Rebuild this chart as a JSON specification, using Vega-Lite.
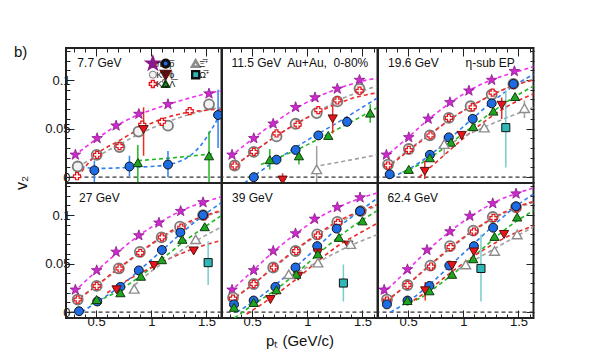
{
"$schema": "https://vega.github.io/schema/vega-lite/v6.json",
"padding": {"left": 14, "top": 45, "right": 5, "bottom": 5},
"bounds": "flush",
"title": {"text": "b)", "orient": "top", "anchor": "start", "frame": "bounds", "fontSize": 15, "fontWeight": "normal", "font": "Liberation Sans", "offset": -13, "color": "#111"},
"config": {"font": "Liberation Sans", "view": {"stroke": "#222", "strokeWidth": 2}, "axis": {"grid": false, "domain": false, "tickColor": "#222", "tickWidth": 1, "labelColor": "#111", "labelFontSize": 13}},
"transform": [{"lookup": "p", "from": {"data": {"values": [{"p":"7.7","r":"a","c":"a"},{"p":"11.5","r":"a","c":"b"},{"p":"19.6","r":"a","c":"c"},{"p":"27","r":"b","c":"a"},{"p":"39","r":"b","c":"b"},{"p":"62.4","r":"b","c":"c"}]}, "key": "p", "fields": ["r","c"]}}],
"data": {"values": [
{"p":"7.7","k":"lab","t":"7.7 GeV","x":0.33,"y":0.118},
{"p":"11.5","k":"lab","t":"11.5 GeV\u00a0 Au+Au,\u00a0 0-80%","x":0.312,"y":0.118},
{"p":"19.6","k":"lab","t":"19.6 GeV","x":0.318,"y":0.118},
{"p":"19.6","k":"lab2","t":"η-sub EP","x":1.02,"y":0.118},
{"p":"27","k":"lab","t":"27 GeV","x":0.345,"y":0.118},
{"p":"39","k":"lab","t":"39 GeV","x":0.318,"y":0.118},
{"p":"62.4","k":"lab","t":"62.4 GeV","x":0.312,"y":0.118},
{"p":"7.7","k":"leg","s":"pi","x":1.014,"y":0.117},
{"p":"7.7","k":"leg","s":"K","x":1.014,"y":0.1055},
{"p":"7.7","k":"leg","s":"K0s","x":1.014,"y":0.096},
{"p":"7.7","k":"leg","s":"pbar","x":1.13,"y":0.117},
{"p":"7.7","k":"leg","s":"phi","x":1.13,"y":0.1055},
{"p":"7.7","k":"leg","s":"Lam","x":1.13,"y":0.096},
{"p":"7.7","k":"leg","s":"Xi","x":1.402,"y":0.117},
{"p":"7.7","k":"leg","s":"Om","x":1.402,"y":0.1055},
{"p":"7.7","k":"legt","t":"π⁻","x":1.045,"y":0.117},
{"p":"7.7","k":"legt","t":"K⁻","x":1.045,"y":0.1055},
{"p":"7.7","k":"legt","t":"K⁰ₛ","x":1.045,"y":0.096},
{"p":"7.7","k":"legt","t":"p̅","x":1.162,"y":0.117},
{"p":"7.7","k":"legt","t":"ϕ","x":1.162,"y":0.1055},
{"p":"7.7","k":"legt","t":"Λ̅","x":1.162,"y":0.096},
{"p":"7.7","k":"legt","t":"Ξ̅⁺","x":1.435,"y":0.117},
{"p":"7.7","k":"legt","t":"Ω̅⁺","x":1.435,"y":0.1055},

{"p":"7.7","k":"f","s":"pi","x":0.3,"y":0.022},{"p":"7.7","k":"f","s":"pi","x":0.5,"y":0.039},{"p":"7.7","k":"f","s":"pi","x":0.7,"y":0.054},{"p":"7.7","k":"f","s":"pi","x":0.9,"y":0.065},{"p":"7.7","k":"f","s":"pi","x":1.1,"y":0.073},{"p":"7.7","k":"f","s":"pi","x":1.3,"y":0.08},{"p":"7.7","k":"f","s":"pi","x":1.5,"y":0.086},{"p":"7.7","k":"f","s":"pi","x":1.64,"y":0.089},
{"p":"7.7","k":"f","s":"K","x":0.33,"y":0.011},{"p":"7.7","k":"f","s":"K","x":0.5,"y":0.021},{"p":"7.7","k":"f","s":"K","x":0.7,"y":0.033},{"p":"7.7","k":"f","s":"K","x":0.9,"y":0.045},{"p":"7.7","k":"f","s":"K","x":1.1,"y":0.055},{"p":"7.7","k":"f","s":"K","x":1.3,"y":0.063},{"p":"7.7","k":"f","s":"K","x":1.5,"y":0.069},{"p":"7.7","k":"f","s":"K","x":1.64,"y":0.072},
{"p":"7.7","k":"f","s":"K0s","x":0.33,"y":0.0},{"p":"7.7","k":"f","s":"K0s","x":0.5,"y":0.023},{"p":"7.7","k":"f","s":"K0s","x":0.7,"y":0.037},{"p":"7.7","k":"f","s":"K0s","x":0.9,"y":0.05},{"p":"7.7","k":"f","s":"K0s","x":1.1,"y":0.06},{"p":"7.7","k":"f","s":"K0s","x":1.3,"y":0.066},{"p":"7.7","k":"f","s":"K0s","x":1.5,"y":0.069},{"p":"7.7","k":"f","s":"K0s","x":1.64,"y":0.07},
{"p":"7.7","k":"f","s":"pbar","x":0.36,"y":0.011},{"p":"7.7","k":"f","s":"pbar","x":0.5,"y":0.009},{"p":"7.7","k":"f","s":"pbar","x":0.8,"y":0.01},{"p":"7.7","k":"f","s":"pbar","x":1.1,"y":0.012},{"p":"7.7","k":"f","s":"pbar","x":1.25,"y":0.016},{"p":"7.7","k":"f","s":"pbar","x":1.35,"y":0.022},{"p":"7.7","k":"f","s":"pbar","x":1.45,"y":0.033},{"p":"7.7","k":"f","s":"pbar","x":1.55,"y":0.05},{"p":"7.7","k":"f","s":"pbar","x":1.64,"y":0.068},
{"p":"7.7","k":"f","s":"Lam","x":0.88,"y":0.017},{"p":"7.7","k":"f","s":"Lam","x":1.2,"y":0.02},{"p":"7.7","k":"f","s":"Lam","x":1.55,"y":0.024},

{"p":"11.5","k":"f","s":"pi","x":0.3,"y":0.021},{"p":"11.5","k":"f","s":"pi","x":0.5,"y":0.039},{"p":"11.5","k":"f","s":"pi","x":0.7,"y":0.056},{"p":"11.5","k":"f","s":"pi","x":0.9,"y":0.071},{"p":"11.5","k":"f","s":"pi","x":1.1,"y":0.083},{"p":"11.5","k":"f","s":"pi","x":1.3,"y":0.092},{"p":"11.5","k":"f","s":"pi","x":1.5,"y":0.099},{"p":"11.5","k":"f","s":"pi","x":1.64,"y":0.102},
{"p":"11.5","k":"f","s":"K","x":0.3,"y":0.009},{"p":"11.5","k":"f","s":"K","x":0.5,"y":0.025},{"p":"11.5","k":"f","s":"K","x":0.7,"y":0.041},{"p":"11.5","k":"f","s":"K","x":0.9,"y":0.055},{"p":"11.5","k":"f","s":"K","x":1.1,"y":0.068},{"p":"11.5","k":"f","s":"K","x":1.3,"y":0.08},{"p":"11.5","k":"f","s":"K","x":1.5,"y":0.089},{"p":"11.5","k":"f","s":"K","x":1.64,"y":0.094},
{"p":"11.5","k":"f","s":"K0s","x":0.3,"y":0.008},{"p":"11.5","k":"f","s":"K0s","x":0.5,"y":0.025},{"p":"11.5","k":"f","s":"K0s","x":0.7,"y":0.041},{"p":"11.5","k":"f","s":"K0s","x":0.9,"y":0.055},{"p":"11.5","k":"f","s":"K0s","x":1.1,"y":0.067},{"p":"11.5","k":"f","s":"K0s","x":1.3,"y":0.077},{"p":"11.5","k":"f","s":"K0s","x":1.5,"y":0.084},{"p":"11.5","k":"f","s":"K0s","x":1.64,"y":0.087},
{"p":"11.5","k":"f","s":"pbar","x":0.43,"y":-0.006},{"p":"11.5","k":"f","s":"pbar","x":0.7,"y":0.016},{"p":"11.5","k":"f","s":"pbar","x":1.0,"y":0.038},{"p":"11.5","k":"f","s":"pbar","x":1.3,"y":0.058},{"p":"11.5","k":"f","s":"pbar","x":1.64,"y":0.082},
{"p":"11.5","k":"f","s":"Lam","x":0.58,"y":0.013},{"p":"11.5","k":"f","s":"Lam","x":0.9,"y":0.028},{"p":"11.5","k":"f","s":"Lam","x":1.2,"y":0.045},{"p":"11.5","k":"f","s":"Lam","x":1.4,"y":0.057},{"p":"11.5","k":"f","s":"Lam","x":1.64,"y":0.072},
{"p":"11.5","k":"f","s":"Xi","x":1.12,"y":0.012},{"p":"11.5","k":"f","s":"Xi","x":1.64,"y":0.023},

{"p":"19.6","k":"f","s":"pi","x":0.28,"y":0.02},{"p":"19.6","k":"f","s":"pi","x":0.5,"y":0.041},{"p":"19.6","k":"f","s":"pi","x":0.7,"y":0.061},{"p":"19.6","k":"f","s":"pi","x":0.9,"y":0.078},{"p":"19.6","k":"f","s":"pi","x":1.1,"y":0.092},{"p":"19.6","k":"f","s":"pi","x":1.3,"y":0.102},{"p":"19.6","k":"f","s":"pi","x":1.5,"y":0.109},{"p":"19.6","k":"f","s":"pi","x":1.64,"y":0.114},
{"p":"19.6","k":"f","s":"K","x":0.3,"y":0.01},{"p":"19.6","k":"f","s":"K","x":0.5,"y":0.028},{"p":"19.6","k":"f","s":"K","x":0.7,"y":0.045},{"p":"19.6","k":"f","s":"K","x":0.9,"y":0.061},{"p":"19.6","k":"f","s":"K","x":1.1,"y":0.075},{"p":"19.6","k":"f","s":"K","x":1.3,"y":0.087},{"p":"19.6","k":"f","s":"K","x":1.5,"y":0.096},{"p":"19.6","k":"f","s":"K","x":1.64,"y":0.101},
{"p":"19.6","k":"f","s":"K0s","x":0.3,"y":0.008},{"p":"19.6","k":"f","s":"K0s","x":0.5,"y":0.027},{"p":"19.6","k":"f","s":"K0s","x":0.7,"y":0.044},{"p":"19.6","k":"f","s":"K0s","x":0.9,"y":0.061},{"p":"19.6","k":"f","s":"K0s","x":1.1,"y":0.075},{"p":"19.6","k":"f","s":"K0s","x":1.3,"y":0.087},{"p":"19.6","k":"f","s":"K0s","x":1.5,"y":0.096},{"p":"19.6","k":"f","s":"K0s","x":1.64,"y":0.1},
{"p":"19.6","k":"f","s":"pbar","x":0.35,"y":0.0},{"p":"19.6","k":"f","s":"pbar","x":0.5,"y":0.008},{"p":"19.6","k":"f","s":"pbar","x":0.7,"y":0.023},{"p":"19.6","k":"f","s":"pbar","x":0.9,"y":0.042},{"p":"19.6","k":"f","s":"pbar","x":1.1,"y":0.062},{"p":"19.6","k":"f","s":"pbar","x":1.3,"y":0.081},{"p":"19.6","k":"f","s":"pbar","x":1.5,"y":0.097},{"p":"19.6","k":"f","s":"pbar","x":1.64,"y":0.106},
{"p":"19.6","k":"f","s":"Lam","x":0.45,"y":0.005},{"p":"19.6","k":"f","s":"Lam","x":0.6,"y":0.013},{"p":"19.6","k":"f","s":"Lam","x":0.8,"y":0.028},{"p":"19.6","k":"f","s":"Lam","x":1.0,"y":0.045},{"p":"19.6","k":"f","s":"Lam","x":1.2,"y":0.062},{"p":"19.6","k":"f","s":"Lam","x":1.4,"y":0.078},{"p":"19.6","k":"f","s":"Lam","x":1.64,"y":0.094},
{"p":"19.6","k":"f","s":"phi","x":0.6,"y":0.0},{"p":"19.6","k":"f","s":"phi","x":0.8,"y":0.02},{"p":"19.6","k":"f","s":"phi","x":1.0,"y":0.04},{"p":"19.6","k":"f","s":"phi","x":1.2,"y":0.058},{"p":"19.6","k":"f","s":"phi","x":1.4,"y":0.073},{"p":"19.6","k":"f","s":"phi","x":1.64,"y":0.086},
{"p":"19.6","k":"f","s":"Xi","x":0.85,"y":0.033},{"p":"19.6","k":"f","s":"Xi","x":1.2,"y":0.052},{"p":"19.6","k":"f","s":"Xi","x":1.64,"y":0.072},

{"p":"27","k":"f","s":"pi","x":0.3,"y":0.021},{"p":"27","k":"f","s":"pi","x":0.5,"y":0.042},{"p":"27","k":"f","s":"pi","x":0.7,"y":0.062},{"p":"27","k":"f","s":"pi","x":0.9,"y":0.08},{"p":"27","k":"f","s":"pi","x":1.1,"y":0.094},{"p":"27","k":"f","s":"pi","x":1.3,"y":0.106},{"p":"27","k":"f","s":"pi","x":1.5,"y":0.114},{"p":"27","k":"f","s":"pi","x":1.64,"y":0.119},
{"p":"27","k":"f","s":"K","x":0.3,"y":0.011},{"p":"27","k":"f","s":"K","x":0.5,"y":0.027},{"p":"27","k":"f","s":"K","x":0.7,"y":0.044},{"p":"27","k":"f","s":"K","x":0.9,"y":0.061},{"p":"27","k":"f","s":"K","x":1.1,"y":0.077},{"p":"27","k":"f","s":"K","x":1.3,"y":0.089},{"p":"27","k":"f","s":"K","x":1.5,"y":0.099},{"p":"27","k":"f","s":"K","x":1.64,"y":0.104},
{"p":"27","k":"f","s":"K0s","x":0.3,"y":0.01},{"p":"27","k":"f","s":"K0s","x":0.5,"y":0.027},{"p":"27","k":"f","s":"K0s","x":0.7,"y":0.045},{"p":"27","k":"f","s":"K0s","x":0.9,"y":0.062},{"p":"27","k":"f","s":"K0s","x":1.1,"y":0.078},{"p":"27","k":"f","s":"K0s","x":1.3,"y":0.091},{"p":"27","k":"f","s":"K0s","x":1.5,"y":0.1},{"p":"27","k":"f","s":"K0s","x":1.64,"y":0.105},
{"p":"27","k":"f","s":"pbar","x":0.37,"y":0.0},{"p":"27","k":"f","s":"pbar","x":0.5,"y":0.01},{"p":"27","k":"f","s":"pbar","x":0.7,"y":0.025},{"p":"27","k":"f","s":"pbar","x":0.9,"y":0.044},{"p":"27","k":"f","s":"pbar","x":1.1,"y":0.064},{"p":"27","k":"f","s":"pbar","x":1.3,"y":0.084},{"p":"27","k":"f","s":"pbar","x":1.5,"y":0.102},{"p":"27","k":"f","s":"pbar","x":1.64,"y":0.113},
{"p":"27","k":"f","s":"Lam","x":0.45,"y":0.008},{"p":"27","k":"f","s":"Lam","x":0.7,"y":0.022},{"p":"27","k":"f","s":"Lam","x":0.9,"y":0.037},{"p":"27","k":"f","s":"Lam","x":1.1,"y":0.055},{"p":"27","k":"f","s":"Lam","x":1.3,"y":0.073},{"p":"27","k":"f","s":"Lam","x":1.5,"y":0.089},{"p":"27","k":"f","s":"Lam","x":1.64,"y":0.1},
{"p":"27","k":"f","s":"phi","x":0.6,"y":0.02},{"p":"27","k":"f","s":"phi","x":0.8,"y":0.034},{"p":"27","k":"f","s":"phi","x":1.0,"y":0.046},{"p":"27","k":"f","s":"phi","x":1.2,"y":0.057},{"p":"27","k":"f","s":"phi","x":1.4,"y":0.066},{"p":"27","k":"f","s":"phi","x":1.64,"y":0.074},
{"p":"27","k":"f","s":"Xi","x":0.85,"y":0.028},{"p":"27","k":"f","s":"Xi","x":1.0,"y":0.042},{"p":"27","k":"f","s":"Xi","x":1.2,"y":0.058},{"p":"27","k":"f","s":"Xi","x":1.4,"y":0.073},{"p":"27","k":"f","s":"Xi","x":1.64,"y":0.088},

{"p":"39","k":"f","s":"pi","x":0.3,"y":0.021},{"p":"39","k":"f","s":"pi","x":0.5,"y":0.042},{"p":"39","k":"f","s":"pi","x":0.7,"y":0.063},{"p":"39","k":"f","s":"pi","x":0.9,"y":0.081},{"p":"39","k":"f","s":"pi","x":1.1,"y":0.097},{"p":"39","k":"f","s":"pi","x":1.3,"y":0.109},{"p":"39","k":"f","s":"pi","x":1.5,"y":0.118},{"p":"39","k":"f","s":"pi","x":1.64,"y":0.123},
{"p":"39","k":"f","s":"K","x":0.3,"y":0.012},{"p":"39","k":"f","s":"K","x":0.5,"y":0.028},{"p":"39","k":"f","s":"K","x":0.7,"y":0.046},{"p":"39","k":"f","s":"K","x":0.9,"y":0.064},{"p":"39","k":"f","s":"K","x":1.1,"y":0.08},{"p":"39","k":"f","s":"K","x":1.3,"y":0.093},{"p":"39","k":"f","s":"K","x":1.5,"y":0.104},{"p":"39","k":"f","s":"K","x":1.64,"y":0.109},
{"p":"39","k":"f","s":"K0s","x":0.3,"y":0.011},{"p":"39","k":"f","s":"K0s","x":0.5,"y":0.028},{"p":"39","k":"f","s":"K0s","x":0.7,"y":0.047},{"p":"39","k":"f","s":"K0s","x":0.9,"y":0.065},{"p":"39","k":"f","s":"K0s","x":1.1,"y":0.081},{"p":"39","k":"f","s":"K0s","x":1.3,"y":0.095},{"p":"39","k":"f","s":"K0s","x":1.5,"y":0.105},{"p":"39","k":"f","s":"K0s","x":1.64,"y":0.111},
{"p":"39","k":"f","s":"pbar","x":0.36,"y":0.0},{"p":"39","k":"f","s":"pbar","x":0.5,"y":0.01},{"p":"39","k":"f","s":"pbar","x":0.7,"y":0.027},{"p":"39","k":"f","s":"pbar","x":0.9,"y":0.047},{"p":"39","k":"f","s":"pbar","x":1.1,"y":0.068},{"p":"39","k":"f","s":"pbar","x":1.3,"y":0.089},{"p":"39","k":"f","s":"pbar","x":1.5,"y":0.106},{"p":"39","k":"f","s":"pbar","x":1.64,"y":0.118},
{"p":"39","k":"f","s":"Lam","x":0.34,"y":-0.006},{"p":"39","k":"f","s":"Lam","x":0.5,"y":0.007},{"p":"39","k":"f","s":"Lam","x":0.7,"y":0.022},{"p":"39","k":"f","s":"Lam","x":0.9,"y":0.04},{"p":"39","k":"f","s":"Lam","x":1.1,"y":0.06},{"p":"39","k":"f","s":"Lam","x":1.3,"y":0.079},{"p":"39","k":"f","s":"Lam","x":1.5,"y":0.095},{"p":"39","k":"f","s":"Lam","x":1.64,"y":0.105},
{"p":"39","k":"f","s":"phi","x":0.45,"y":-0.002},{"p":"39","k":"f","s":"phi","x":0.7,"y":0.017},{"p":"39","k":"f","s":"phi","x":0.9,"y":0.034},{"p":"39","k":"f","s":"phi","x":1.1,"y":0.053},{"p":"39","k":"f","s":"phi","x":1.3,"y":0.07},{"p":"39","k":"f","s":"phi","x":1.5,"y":0.083},{"p":"39","k":"f","s":"phi","x":1.64,"y":0.092},
{"p":"39","k":"f","s":"Xi","x":0.8,"y":0.035},{"p":"39","k":"f","s":"Xi","x":1.1,"y":0.052},{"p":"39","k":"f","s":"Xi","x":1.4,"y":0.069},{"p":"39","k":"f","s":"Xi","x":1.64,"y":0.08},

{"p":"62.4","k":"f","s":"pi","x":0.27,"y":0.019},{"p":"62.4","k":"f","s":"pi","x":0.5,"y":0.044},{"p":"62.4","k":"f","s":"pi","x":0.7,"y":0.066},{"p":"62.4","k":"f","s":"pi","x":0.9,"y":0.085},{"p":"62.4","k":"f","s":"pi","x":1.1,"y":0.101},{"p":"62.4","k":"f","s":"pi","x":1.3,"y":0.114},{"p":"62.4","k":"f","s":"pi","x":1.5,"y":0.123},{"p":"62.4","k":"f","s":"pi","x":1.64,"y":0.128},
{"p":"62.4","k":"f","s":"K","x":0.3,"y":0.012},{"p":"62.4","k":"f","s":"K","x":0.5,"y":0.029},{"p":"62.4","k":"f","s":"K","x":0.7,"y":0.048},{"p":"62.4","k":"f","s":"K","x":0.9,"y":0.067},{"p":"62.4","k":"f","s":"K","x":1.1,"y":0.084},{"p":"62.4","k":"f","s":"K","x":1.3,"y":0.098},{"p":"62.4","k":"f","s":"K","x":1.5,"y":0.108},{"p":"62.4","k":"f","s":"K","x":1.64,"y":0.113},
{"p":"62.4","k":"f","s":"K0s","x":0.3,"y":0.011},{"p":"62.4","k":"f","s":"K0s","x":0.5,"y":0.029},{"p":"62.4","k":"f","s":"K0s","x":0.7,"y":0.049},{"p":"62.4","k":"f","s":"K0s","x":0.9,"y":0.068},{"p":"62.4","k":"f","s":"K0s","x":1.1,"y":0.085},{"p":"62.4","k":"f","s":"K0s","x":1.3,"y":0.099},{"p":"62.4","k":"f","s":"K0s","x":1.5,"y":0.109},{"p":"62.4","k":"f","s":"K0s","x":1.64,"y":0.114},
{"p":"62.4","k":"f","s":"pbar","x":0.34,"y":0.0},{"p":"62.4","k":"f","s":"pbar","x":0.5,"y":0.011},{"p":"62.4","k":"f","s":"pbar","x":0.7,"y":0.029},{"p":"62.4","k":"f","s":"pbar","x":0.9,"y":0.05},{"p":"62.4","k":"f","s":"pbar","x":1.1,"y":0.071},{"p":"62.4","k":"f","s":"pbar","x":1.3,"y":0.092},{"p":"62.4","k":"f","s":"pbar","x":1.5,"y":0.111},{"p":"62.4","k":"f","s":"pbar","x":1.64,"y":0.122},
{"p":"62.4","k":"f","s":"Lam","x":0.45,"y":0.008},{"p":"62.4","k":"f","s":"Lam","x":0.6,"y":0.014},{"p":"62.4","k":"f","s":"Lam","x":0.8,"y":0.03},{"p":"62.4","k":"f","s":"Lam","x":1.0,"y":0.048},{"p":"62.4","k":"f","s":"Lam","x":1.2,"y":0.068},{"p":"62.4","k":"f","s":"Lam","x":1.4,"y":0.087},{"p":"62.4","k":"f","s":"Lam","x":1.64,"y":0.105},
{"p":"62.4","k":"f","s":"phi","x":0.55,"y":0.012},{"p":"62.4","k":"f","s":"phi","x":0.7,"y":0.024},{"p":"62.4","k":"f","s":"phi","x":0.9,"y":0.042},{"p":"62.4","k":"f","s":"phi","x":1.1,"y":0.058},{"p":"62.4","k":"f","s":"phi","x":1.3,"y":0.072},{"p":"62.4","k":"f","s":"phi","x":1.5,"y":0.083},{"p":"62.4","k":"f","s":"phi","x":1.64,"y":0.089},
{"p":"62.4","k":"f","s":"Xi","x":0.95,"y":0.044},{"p":"62.4","k":"f","s":"Xi","x":1.2,"y":0.06},{"p":"62.4","k":"f","s":"Xi","x":1.4,"y":0.073},{"p":"62.4","k":"f","s":"Xi","x":1.64,"y":0.088},

{"p":"7.7","k":"pt","s":"pi","x":0.312,"y":0.023},{"p":"7.7","k":"pt","s":"pi","x":0.509,"y":0.04},{"p":"7.7","k":"pt","s":"pi","x":0.681,"y":0.053},{"p":"7.7","k":"pt","s":"pi","x":0.887,"y":0.065},{"p":"7.7","k":"pt","s":"pi","x":1.151,"y":0.075},{"p":"7.7","k":"pt","s":"pi","x":1.523,"y":0.086},
{"p":"7.7","k":"pt","s":"K","x":0.333,"y":0.011},{"p":"7.7","k":"pt","s":"K","x":0.505,"y":0.023},{"p":"7.7","k":"pt","s":"K","x":0.712,"y":0.031},{"p":"7.7","k":"pt","s":"K","x":0.884,"y":0.047},{"p":"7.7","k":"pt","s":"K","x":1.151,"y":0.053},{"p":"7.7","k":"pt","s":"K","x":1.523,"y":0.075},
{"p":"7.7","k":"pt","s":"K0s","x":0.327,"y":0.001},{"p":"7.7","k":"pt","s":"K0s","x":0.509,"y":0.023},{"p":"7.7","k":"pt","s":"K0s","x":0.712,"y":0.032},{"p":"7.7","k":"pt","s":"K0s","x":0.918,"y":0.054},{"p":"7.7","k":"pt","s":"K0s","x":1.096,"y":0.057},{"p":"7.7","k":"pt","s":"K0s","x":1.348,"y":0.068},
{"p":"7.7","k":"pt","s":"pbar","x":0.484,"y":0.007,"lo":-0.01,"hi":0.017},{"p":"7.7","k":"pt","s":"pbar","x":0.802,"y":0.011,"lo":0.001,"hi":0.022},{"p":"7.7","k":"pt","s":"pbar","x":1.151,"y":0.013,"lo":0.0,"hi":0.027},{"p":"7.7","k":"pt","s":"pbar","x":1.605,"y":0.064,"lo":0.03,"hi":0.09},
{"p":"7.7","k":"pt","s":"phi","x":0.93,"y":0.049,"lo":0.022,"hi":0.072},
{"p":"7.7","k":"pt","s":"Lam","x":0.878,"y":0.015,"lo":-0.01,"hi":0.033},{"p":"7.7","k":"pt","s":"Lam","x":1.523,"y":0.022,"lo":-0.01,"hi":0.047},

{"p":"11.5","k":"pt","s":"pi","x":0.318,"y":0.023},{"p":"11.5","k":"pt","s":"pi","x":0.515,"y":0.04},{"p":"11.5","k":"pt","s":"pi","x":0.691,"y":0.055},{"p":"11.5","k":"pt","s":"pi","x":0.894,"y":0.072},{"p":"11.5","k":"pt","s":"pi","x":1.07,"y":0.082},{"p":"11.5","k":"pt","s":"pi","x":1.272,"y":0.091},{"p":"11.5","k":"pt","s":"pi","x":1.473,"y":0.1},
{"p":"11.5","k":"pt","s":"K","x":0.342,"y":0.012},{"p":"11.5","k":"pt","s":"K","x":0.515,"y":0.026},{"p":"11.5","k":"pt","s":"K","x":0.721,"y":0.042},{"p":"11.5","k":"pt","s":"K","x":0.894,"y":0.055},{"p":"11.5","k":"pt","s":"K","x":1.085,"y":0.066},{"p":"11.5","k":"pt","s":"K","x":1.272,"y":0.078},{"p":"11.5","k":"pt","s":"K","x":1.473,"y":0.091},
{"p":"11.5","k":"pt","s":"K0s","x":0.342,"y":0.012},{"p":"11.5","k":"pt","s":"K0s","x":0.515,"y":0.026},{"p":"11.5","k":"pt","s":"K0s","x":0.721,"y":0.045},{"p":"11.5","k":"pt","s":"K0s","x":0.912,"y":0.054},{"p":"11.5","k":"pt","s":"K0s","x":1.1,"y":0.069},{"p":"11.5","k":"pt","s":"K0s","x":1.272,"y":0.079},{"p":"11.5","k":"pt","s":"K0s","x":1.473,"y":0.089},
{"p":"11.5","k":"pt","s":"pbar","x":0.515,"y":0.0},{"p":"11.5","k":"pt","s":"pbar","x":0.721,"y":0.018},{"p":"11.5","k":"pt","s":"pbar","x":0.894,"y":0.028},{"p":"11.5","k":"pt","s":"pbar","x":1.1,"y":0.043},{"p":"11.5","k":"pt","s":"pbar","x":1.36,"y":0.057},
{"p":"11.5","k":"pt","s":"phi","x":0.776,"y":-0.003,"lo":-0.01,"hi":0.004},{"p":"11.5","k":"pt","s":"phi","x":1.23,"y":0.06,"lo":0.045,"hi":0.075},
{"p":"11.5","k":"pt","s":"Lam","x":0.66,"y":0.018,"lo":0.008,"hi":0.029},{"p":"11.5","k":"pt","s":"Lam","x":0.924,"y":0.022,"lo":0.013,"hi":0.031},{"p":"11.5","k":"pt","s":"Lam","x":1.19,"y":0.043},{"p":"11.5","k":"pt","s":"Lam","x":1.57,"y":0.066,"lo":0.056,"hi":0.075},
{"p":"11.5","k":"pt","s":"Xi","x":1.085,"y":0.008,"lo":-0.01,"hi":0.032},

{"p":"19.6","k":"pt","s":"pi","x":0.303,"y":0.023},{"p":"19.6","k":"pt","s":"pi","x":0.506,"y":0.041},{"p":"19.6","k":"pt","s":"pi","x":0.682,"y":0.06},{"p":"19.6","k":"pt","s":"pi","x":0.879,"y":0.077},{"p":"19.6","k":"pt","s":"pi","x":1.051,"y":0.089},{"p":"19.6","k":"pt","s":"pi","x":1.257,"y":0.1},{"p":"19.6","k":"pt","s":"pi","x":1.463,"y":0.109},
{"p":"19.6","k":"pt","s":"K","x":0.318,"y":0.013},{"p":"19.6","k":"pt","s":"K","x":0.506,"y":0.029},{"p":"19.6","k":"pt","s":"K","x":0.697,"y":0.043},{"p":"19.6","k":"pt","s":"K","x":0.869,"y":0.061},{"p":"19.6","k":"pt","s":"K","x":1.066,"y":0.073},{"p":"19.6","k":"pt","s":"K","x":1.257,"y":0.085},{"p":"19.6","k":"pt","s":"K","x":1.454,"y":0.096},
{"p":"19.6","k":"pt","s":"K0s","x":0.318,"y":0.012},{"p":"19.6","k":"pt","s":"K0s","x":0.506,"y":0.028},{"p":"19.6","k":"pt","s":"K0s","x":0.703,"y":0.043},{"p":"19.6","k":"pt","s":"K0s","x":0.869,"y":0.061},{"p":"19.6","k":"pt","s":"K0s","x":1.085,"y":0.072},{"p":"19.6","k":"pt","s":"K0s","x":1.266,"y":0.087},{"p":"19.6","k":"pt","s":"K0s","x":1.454,"y":0.095},
{"p":"19.6","k":"pt","s":"pbar","x":0.333,"y":0.003},{"p":"19.6","k":"pt","s":"pbar","x":0.697,"y":0.023},{"p":"19.6","k":"pt","s":"pbar","x":0.869,"y":0.041},{"p":"19.6","k":"pt","s":"pbar","x":1.085,"y":0.06},{"p":"19.6","k":"pt","s":"pbar","x":1.257,"y":0.076},{"p":"19.6","k":"pt","s":"pbar","x":1.454,"y":0.096},
{"p":"19.6","k":"pt","s":"phi","x":0.651,"y":0.006,"lo":-0.002,"hi":0.017},{"p":"19.6","k":"pt","s":"phi","x":0.985,"y":0.043},{"p":"19.6","k":"pt","s":"phi","x":1.348,"y":0.074,"lo":0.06,"hi":0.082},
{"p":"19.6","k":"pt","s":"Lam","x":0.506,"y":0.008},{"p":"19.6","k":"pt","s":"Lam","x":0.697,"y":0.02},{"p":"19.6","k":"pt","s":"Lam","x":0.888,"y":0.036},{"p":"19.6","k":"pt","s":"Lam","x":1.09,"y":0.052},{"p":"19.6","k":"pt","s":"Lam","x":1.272,"y":0.068},{"p":"19.6","k":"pt","s":"Lam","x":1.469,"y":0.083},
{"p":"19.6","k":"pt","s":"Xi","x":0.827,"y":0.034,"lo":0.022,"hi":0.043},{"p":"19.6","k":"pt","s":"Xi","x":1.19,"y":0.051},{"p":"19.6","k":"pt","s":"Xi","x":1.554,"y":0.071,"lo":0.061,"hi":0.079},
{"p":"19.6","k":"pt","s":"Om","x":1.385,"y":0.051,"lo":0.01,"hi":0.089},

{"p":"27","k":"pt","s":"pi","x":0.312,"y":0.023},{"p":"27","k":"pt","s":"pi","x":0.505,"y":0.043},{"p":"27","k":"pt","s":"pi","x":0.681,"y":0.062},{"p":"27","k":"pt","s":"pi","x":0.887,"y":0.079},{"p":"27","k":"pt","s":"pi","x":1.069,"y":0.092},{"p":"27","k":"pt","s":"pi","x":1.266,"y":0.104},{"p":"27","k":"pt","s":"pi","x":1.469,"y":0.113},
{"p":"27","k":"pt","s":"K","x":0.333,"y":0.013},{"p":"27","k":"pt","s":"K","x":0.505,"y":0.027},{"p":"27","k":"pt","s":"K","x":0.706,"y":0.045},{"p":"27","k":"pt","s":"K","x":0.896,"y":0.062},{"p":"27","k":"pt","s":"K","x":1.093,"y":0.077},{"p":"27","k":"pt","s":"K","x":1.26,"y":0.088},{"p":"27","k":"pt","s":"K","x":1.469,"y":0.1},
{"p":"27","k":"pt","s":"K0s","x":0.333,"y":0.013},{"p":"27","k":"pt","s":"K0s","x":0.505,"y":0.027},{"p":"27","k":"pt","s":"K0s","x":0.712,"y":0.045},{"p":"27","k":"pt","s":"K0s","x":0.9,"y":0.061},{"p":"27","k":"pt","s":"K0s","x":1.096,"y":0.077},{"p":"27","k":"pt","s":"K0s","x":1.272,"y":0.087},{"p":"27","k":"pt","s":"K0s","x":1.48,"y":0.099},
{"p":"27","k":"pt","s":"pbar","x":0.345,"y":0.001},{"p":"27","k":"pt","s":"pbar","x":0.51,"y":0.011},{"p":"27","k":"pt","s":"pbar","x":0.72,"y":0.026},{"p":"27","k":"pt","s":"pbar","x":0.887,"y":0.043},{"p":"27","k":"pt","s":"pbar","x":1.096,"y":0.064},{"p":"27","k":"pt","s":"pbar","x":1.263,"y":0.082},{"p":"27","k":"pt","s":"pbar","x":1.469,"y":0.1},
{"p":"27","k":"pt","s":"phi","x":0.685,"y":0.023},{"p":"27","k":"pt","s":"phi","x":1.024,"y":0.048},{"p":"27","k":"pt","s":"phi","x":1.384,"y":0.063},
{"p":"27","k":"pt","s":"Lam","x":0.505,"y":0.013},{"p":"27","k":"pt","s":"Lam","x":0.72,"y":0.02},{"p":"27","k":"pt","s":"Lam","x":0.906,"y":0.037},{"p":"27","k":"pt","s":"Lam","x":1.096,"y":0.054},{"p":"27","k":"pt","s":"Lam","x":1.281,"y":0.075},{"p":"27","k":"pt","s":"Lam","x":1.484,"y":0.088},
{"p":"27","k":"pt","s":"Xi","x":0.845,"y":0.024},{"p":"27","k":"pt","s":"Xi","x":1.402,"y":0.075},
{"p":"27","k":"pt","s":"Om","x":1.515,"y":0.051,"lo":0.028,"hi":0.073},

{"p":"39","k":"pt","s":"pi","x":0.318,"y":0.023},{"p":"39","k":"pt","s":"pi","x":0.514,"y":0.043},{"p":"39","k":"pt","s":"pi","x":0.691,"y":0.063},{"p":"39","k":"pt","s":"pi","x":0.893,"y":0.081},{"p":"39","k":"pt","s":"pi","x":1.066,"y":0.096},{"p":"39","k":"pt","s":"pi","x":1.272,"y":0.108},{"p":"39","k":"pt","s":"pi","x":1.478,"y":0.118},
{"p":"39","k":"pt","s":"K","x":0.327,"y":0.015},{"p":"39","k":"pt","s":"K","x":0.514,"y":0.029},{"p":"39","k":"pt","s":"K","x":0.691,"y":0.046},{"p":"39","k":"pt","s":"K","x":0.893,"y":0.063},{"p":"39","k":"pt","s":"K","x":1.09,"y":0.08},{"p":"39","k":"pt","s":"K","x":1.272,"y":0.093},{"p":"39","k":"pt","s":"K","x":1.484,"y":0.104},
{"p":"39","k":"pt","s":"K0s","x":0.327,"y":0.014},{"p":"39","k":"pt","s":"K0s","x":0.514,"y":0.029},{"p":"39","k":"pt","s":"K0s","x":0.697,"y":0.046},{"p":"39","k":"pt","s":"K0s","x":0.899,"y":0.063},{"p":"39","k":"pt","s":"K0s","x":1.096,"y":0.079},{"p":"39","k":"pt","s":"K0s","x":1.278,"y":0.092},{"p":"39","k":"pt","s":"K0s","x":1.49,"y":0.104},
{"p":"39","k":"pt","s":"pbar","x":0.336,"y":0.008},{"p":"39","k":"pt","s":"pbar","x":0.514,"y":0.012},{"p":"39","k":"pt","s":"pbar","x":0.711,"y":0.026},{"p":"39","k":"pt","s":"pbar","x":0.893,"y":0.046},{"p":"39","k":"pt","s":"pbar","x":1.09,"y":0.068},{"p":"39","k":"pt","s":"pbar","x":1.266,"y":0.086},{"p":"39","k":"pt","s":"pbar","x":1.478,"y":0.104},
{"p":"39","k":"pt","s":"phi","x":0.666,"y":0.013},{"p":"39","k":"pt","s":"phi","x":0.918,"y":0.037},{"p":"39","k":"pt","s":"phi","x":1.096,"y":0.061},{"p":"39","k":"pt","s":"phi","x":1.372,"y":0.069},
{"p":"39","k":"pt","s":"Lam","x":0.336,"y":0.005},{"p":"39","k":"pt","s":"Lam","x":0.514,"y":0.01},{"p":"39","k":"pt","s":"Lam","x":0.72,"y":0.023},{"p":"39","k":"pt","s":"Lam","x":0.9,"y":0.039},{"p":"39","k":"pt","s":"Lam","x":1.096,"y":0.06},{"p":"39","k":"pt","s":"Lam","x":1.287,"y":0.077},{"p":"39","k":"pt","s":"Lam","x":1.5,"y":0.094},
{"p":"39","k":"pt","s":"Xi","x":0.832,"y":0.039},{"p":"39","k":"pt","s":"Xi","x":1.096,"y":0.051},{"p":"39","k":"pt","s":"Xi","x":1.393,"y":0.07},
{"p":"39","k":"pt","s":"Om","x":1.327,"y":0.03,"lo":0.011,"hi":0.049},

{"p":"62.4","k":"pt","s":"pi","x":0.283,"y":0.023},{"p":"62.4","k":"pt","s":"pi","x":0.494,"y":0.044},{"p":"62.4","k":"pt","s":"pi","x":0.671,"y":0.064},{"p":"62.4","k":"pt","s":"pi","x":0.879,"y":0.083},{"p":"62.4","k":"pt","s":"pi","x":1.059,"y":0.099},{"p":"62.4","k":"pt","s":"pi","x":1.267,"y":0.112},{"p":"62.4","k":"pt","s":"pi","x":1.478,"y":0.122},
{"p":"62.4","k":"pt","s":"K","x":0.308,"y":0.013},{"p":"62.4","k":"pt","s":"K","x":0.494,"y":0.028},{"p":"62.4","k":"pt","s":"K","x":0.702,"y":0.048},{"p":"62.4","k":"pt","s":"K","x":0.879,"y":0.068},{"p":"62.4","k":"pt","s":"K","x":1.09,"y":0.084},{"p":"62.4","k":"pt","s":"K","x":1.267,"y":0.098},{"p":"62.4","k":"pt","s":"K","x":1.478,"y":0.108},
{"p":"62.4","k":"pt","s":"K0s","x":0.308,"y":0.012},{"p":"62.4","k":"pt","s":"K0s","x":0.494,"y":0.028},{"p":"62.4","k":"pt","s":"K0s","x":0.708,"y":0.047},{"p":"62.4","k":"pt","s":"K0s","x":0.885,"y":0.067},{"p":"62.4","k":"pt","s":"K0s","x":1.096,"y":0.083},{"p":"62.4","k":"pt","s":"K0s","x":1.273,"y":0.097},{"p":"62.4","k":"pt","s":"K0s","x":1.484,"y":0.107},
{"p":"62.4","k":"pt","s":"pbar","x":0.308,"y":0.008},{"p":"62.4","k":"pt","s":"pbar","x":0.494,"y":0.012},{"p":"62.4","k":"pt","s":"pbar","x":0.693,"y":0.027},{"p":"62.4","k":"pt","s":"pbar","x":0.873,"y":0.048},{"p":"62.4","k":"pt","s":"pbar","x":1.096,"y":0.068},{"p":"62.4","k":"pt","s":"pbar","x":1.27,"y":0.087},{"p":"62.4","k":"pt","s":"pbar","x":1.478,"y":0.109},
{"p":"62.4","k":"pt","s":"phi","x":0.655,"y":0.022,"lo":0.012,"hi":0.031},{"p":"62.4","k":"pt","s":"phi","x":0.898,"y":0.048},{"p":"62.4","k":"pt","s":"phi","x":1.096,"y":0.062},{"p":"62.4","k":"pt","s":"phi","x":1.369,"y":0.08},
{"p":"62.4","k":"pt","s":"Lam","x":0.494,"y":0.012},{"p":"62.4","k":"pt","s":"Lam","x":0.693,"y":0.022},{"p":"62.4","k":"pt","s":"Lam","x":0.898,"y":0.039},{"p":"62.4","k":"pt","s":"Lam","x":1.09,"y":0.055},{"p":"62.4","k":"pt","s":"Lam","x":1.283,"y":0.078},{"p":"62.4","k":"pt","s":"Lam","x":1.488,"y":0.098},
{"p":"62.4","k":"pt","s":"Xi","x":1.022,"y":0.049},{"p":"62.4","k":"pt","s":"Xi","x":1.283,"y":0.063},{"p":"62.4","k":"pt","s":"Xi","x":1.488,"y":0.08},
{"p":"62.4","k":"pt","s":"Om","x":1.16,"y":0.045,"lo":0.011,"hi":0.08}
]},
"facet": {
 "row": {"field": "r", "type": "nominal", "header": {"title": "v₂", "labels": false, "titleOrient": "left", "titleFontSize": 16, "titleFontWeight": "normal", "titleColor": "#111", "titlePadding": 4}},
 "column": {"field": "c", "type": "nominal", "header": {"title": "pₜ (GeV/c)", "labels": false, "titleOrient": "bottom", "titleFontSize": 15, "titleFontWeight": "normal", "titleColor": "#111", "titlePadding": -4}}
},
"spacing": {"row": 0, "column": 0},
"spec": {
"width": 155.5, "height": 135,
"resolve": {"axis": {"x": "independent", "y": "independent"}},
"layer": [
{
"encoding": {
"x": {"field": "x", "type": "quantitative", "scale": {"domain": [0.227, 1.636], "nice": false, "zero": false},
 "axis": {"title": null, "values": [0.3,0.4,0.5,0.6,0.7,0.8,0.9,1,1.1,1.2,1.3,1.4,1.5,1.6],
  "labelExpr": "datum.value===0.5?'0.5':datum.value===1?'1':datum.value===1.5?'1.5':''",
  "tickSize": {"condition": {"test": "datum.value===0.5||datum.value===1||datum.value===1.5", "value": -8}, "value": -4},
  "labelPadding": 5, "labelFlush": false}},
"y": {"field": "y", "type": "quantitative", "scale": {"domain": [-0.006, 0.133], "nice": false, "zero": false},
 "axis": {"title": null, "values": [0,0.01,0.02,0.03,0.04,0.05,0.06,0.07,0.08,0.09,0.1,0.11,0.12,0.13],
  "labelExpr": "datum.value===0?'0':datum.value===0.05?'0.05':datum.value===0.1?'0.1':''",
  "tickSize": {"condition": {"test": "datum.value===0||datum.value===0.05||datum.value===0.1", "value": -8}, "value": -4},
  "labelPadding": 4, "labelFlush": false}}
},
"layer": [
{"transform": [{"filter": "datum.k==='lab'"}], "mark": {"type": "rule", "strokeDash": [4,3], "color": "#333", "strokeWidth": 1.2}, "encoding": {"y": {"datum": 0}, "x": null}},
{"transform": [{"filter": "datum.k==='f'"}], "mark": {"type": "line", "strokeDash": [4,3], "strokeWidth": 1.6, "interpolate": "monotone", "clip": true},
 "encoding": {"color": {"field": "s", "type": "nominal", "legend": null, "scale": {"domain": ["pi","K","K0s","pbar","phi","Lam","Xi","Om"], "range": ["#f032f0","#a0a0a0","#ee2a2a","#2f7ff0","#ee2a2a","#22b822","#a0a0a0","#77cccc"]}}, "detail": {"field": "s"}}},
{"transform": [{"filter": "isValid(datum.lo)"}], "mark": {"type": "rule", "strokeWidth": 1.5, "clip": true},
 "encoding": {"y": {"field": "lo", "type": "quantitative"}, "y2": {"field": "hi"}, "color": {"field": "s", "type": "nominal", "legend": null}}},
{"transform": [{"filter": "datum.k==='pt'"}], "mark": {"type": "point", "filled": true, "opacity": 1, "clip": true},
 "encoding": {
  "shape": {"field": "s", "type": "nominal", "legend": null, "scale": {"domain": ["pi","K","K0s","pbar","phi","Lam","Xi","Om"], "range": ["M0,-1L0.235,-0.324L0.951,-0.309L0.38,0.124L0.588,0.809L0,0.4L-0.588,0.809L-0.38,0.124L-0.951,-0.309L-0.235,-0.324Z","circle","cross","circle","triangle-down","triangle-up","triangle-up","square"]}},
  "fill": {"field": "s", "type": "nominal", "legend": null, "scale": {"domain": ["pi","K","K0s","pbar","phi","Lam","Xi","Om"], "range": ["#cc2acc","#f2f2f2","#ffffff","#1e6be6","#e8141a","#1fa51f","#ffffff","#2fb8b8"]}},
  "stroke": {"field": "s", "type": "nominal", "legend": null, "scale": {"domain": ["pi","K","K0s","pbar","phi","Lam","Xi","Om"], "range": ["#8a1a8a","#7a7a7a","#e8141a","#111111","#5a1010","#103a10","#8c8c8c","#111111"]}},
  "strokeWidth": {"field": "s", "type": "nominal", "legend": null, "scale": {"type": "ordinal", "domain": ["pi","K","K0s","pbar","phi","Lam","Xi","Om"], "range": [0.8,1.8,1.2,1,1,1,1.4,1]}},
  "size": {"field": "s", "type": "nominal", "legend": null, "scale": {"type": "ordinal", "domain": ["pi","K","K0s","pbar","phi","Lam","Xi","Om"], "range": [125,100,50,80,85,85,95,65]}}
 }},
{"transform": [{"filter": "datum.k==='leg'"}], "mark": {"type": "point", "filled": true, "opacity": 1, "size": 50},
 "encoding": {
  "shape": {"field": "s", "type": "nominal", "legend": null},
  "fill": {"field": "s", "type": "nominal", "legend": null},
  "stroke": {"field": "s", "type": "nominal", "legend": null},
  "strokeWidth": {"field": "s", "type": "nominal", "legend": null}
 }},
{"transform": [{"filter": "datum.k==='lab'||datum.k==='lab2'"}], "mark": {"type": "text", "align": "left", "baseline": "middle", "fontSize": 12, "color": "#111"}, "encoding": {"text": {"field": "t"}}},
{"transform": [{"filter": "datum.k==='legt'"}], "mark": {"type": "text", "align": "left", "baseline": "middle", "fontSize": 9, "color": "#111"}, "encoding": {"text": {"field": "t"}}}
]
},
{
"transform": [{"filter": "datum.k==='lab'"}],
"mark": {"type": "point", "opacity": 0},
"encoding": {
"x": {"field": "x", "type": "quantitative", "axis": {"orient": "top", "title": null, "labels": false, "values": [0.3,0.4,0.5,0.6,0.7,0.8,0.9,1,1.1,1.2,1.3,1.4,1.5,1.6],
  "tickSize": {"condition": {"test": "datum.value===0.5||datum.value===1||datum.value===1.5", "value": -8}, "value": -4}}},
"y": {"field": "y", "type": "quantitative", "axis": {"orient": "right", "title": null, "labels": false, "values": [0,0.01,0.02,0.03,0.04,0.05,0.06,0.07,0.08,0.09,0.1,0.11,0.12,0.13],
  "tickSize": {"condition": {"test": "datum.value===0||datum.value===0.05||datum.value===0.1", "value": -8}, "value": -4}}}
}
}
]
}
}
